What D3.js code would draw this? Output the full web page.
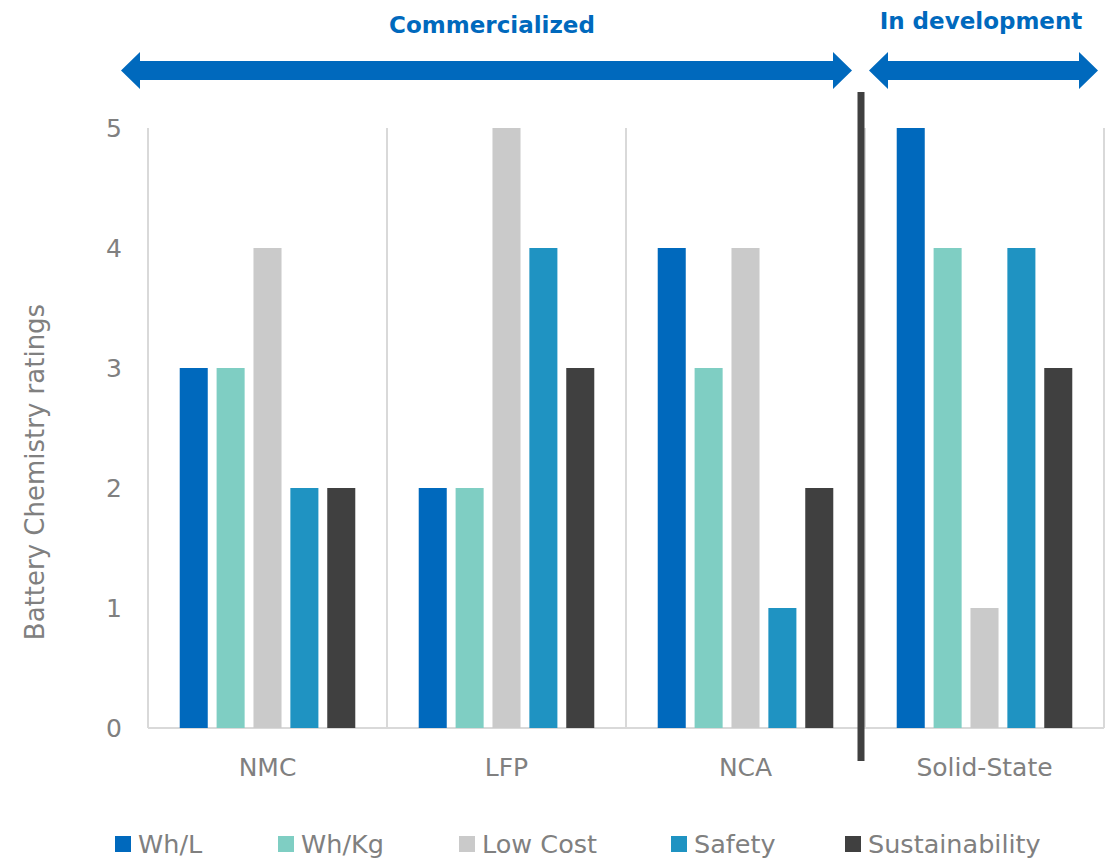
<!DOCTYPE html>
<html>
<head>
<meta charset="utf-8">
<script src="https://cdn.jsdelivr.net/npm/d3@7"></script>
<style>
  body { margin: 0; background: #fff; }
  text { font-family: "DejaVu Sans", Verdana, sans-serif; }
</style>
</head>
<body>
<div id="chart-area"></div>
<script>
// chart data
var categories = ["NMC", "LFP", "NCA", "Solid-State"];
var seriesNames = ["Wh/L", "Wh/Kg", "Low Cost", "Safety", "Sustainability"];
var colors = ["#0069bd", "#7fcec3", "#cacaca", "#1f93c2", "#404040"];
var whL = [3, 2, 4, 5];
var whKg = [3, 2, 3, 4];
var lowCost = [4, 5, 4, 1];
var safety = [2, 4, 1, 4];
var sustainability = [2, 3, 2, 3];
var yTicks = [0, 1, 2, 3, 4, 5];

var seriesValues = [whL, whKg, lowCost, safety, sustainability];

var W = 1112, H = 858;
var margin = { left: 148, right: 8, top: 128, bottom: 130 };
var width = W - margin.left - margin.right,
    height = H - margin.top - margin.bottom;

var svg = d3.select("#chart-area").append("svg")
    .attr("width", W)
    .attr("height", H);
var g = svg.append("g")
    .attr("transform", "translate(" + margin.left + "," + margin.top + ")");

// scales
var x0 = d3.scaleBand().domain(categories).range([0, width]).padding(0);
var x1 = d3.scaleBand().domain(seriesNames).range([0, x0.bandwidth()])
    .paddingInner(0.24).paddingOuter(0.86);
var y = d3.scaleLinear().domain([0, 5]).range([height, 0]);

// vertical grid lines at category boundaries
var bounds = categories.map(function(c) { return x0(c); }).concat([width]);
g.selectAll(".vgrid").data(bounds).enter().append("line")
    .attr("class", "vgrid")
    .attr("x1", function(d) { return d; })
    .attr("x2", function(d) { return d; })
    .attr("y1", 0)
    .attr("y2", height)
    .attr("stroke", "#d9d9d9")
    .attr("stroke-width", 2);

// baseline
g.append("line")
    .attr("x1", 0).attr("x2", width)
    .attr("y1", y(0)).attr("y2", y(0))
    .attr("stroke", "#d9d9d9")
    .attr("stroke-width", 2);

// bars
var groups = g.selectAll(".grp").data(categories).enter().append("g")
    .attr("class", "grp")
    .attr("transform", function(c) { return "translate(" + x0(c) + ",0)"; });
groups.selectAll("rect")
    .data(function(c, ci) {
        return seriesNames.map(function(s, si) {
            return { s: s, v: seriesValues[si][ci], color: colors[si] };
        });
    })
    .enter().append("rect")
    .attr("x", function(d) { return x1(d.s); })
    .attr("width", x1.bandwidth())
    .attr("y", function(d) { return y(d.v); })
    .attr("height", function(d) { return height - y(d.v); })
    .attr("fill", function(d) { return d.color; });

// y axis
var yAxis = g.append("g")
    .call(d3.axisLeft(y).tickValues(yTicks).tickFormat(d3.format("d"))
        .tickSize(0).tickPadding(26));
yAxis.select(".domain").remove();
yAxis.selectAll("text")
    .attr("font-size", "25px")
    .attr("fill", "#808080")
    .style("font-family", "DejaVu Sans, Verdana, sans-serif");

// x axis
var xAxis = g.append("g")
    .attr("transform", "translate(0," + height + ")")
    .call(d3.axisBottom(x0).tickSize(0));
xAxis.select(".domain").remove();
xAxis.selectAll("text")
    .attr("y", 48)
    .attr("dy", 0)
    .attr("font-size", "25px")
    .attr("fill", "#808080")
    .style("font-family", "DejaVu Sans, Verdana, sans-serif");

// y label
svg.append("text")
    .attr("transform", "translate(44," + 472 + ") rotate(-90)")
    .attr("text-anchor", "middle")
    .attr("font-size", "26px")
    .attr("fill", "#808080")
    .text("Battery Chemistry ratings");

// divider between commercialized and in development
var divX = margin.left + x0("Solid-State") - 4;
svg.append("line")
    .attr("x1", divX).attr("x2", divX)
    .attr("y1", 92).attr("y2", 761)
    .attr("stroke", "#404040")
    .attr("stroke-width", 7);

// double-headed arrows
function arrow(xa, xb, yc) {
    var hw = 19, hh = 18.5, sh = 9.5;
    var p = [
        [xa, yc], [xa + hw, yc - hh], [xa + hw, yc - sh],
        [xb - hw, yc - sh], [xb - hw, yc - hh], [xb, yc],
        [xb - hw, yc + hh], [xb - hw, yc + sh], [xa + hw, yc + sh],
        [xa + hw, yc + hh]
    ];
    svg.append("path")
        .attr("d", d3.line()(p) + "Z")
        .attr("fill", "#0069bd");
}
arrow(121, 852, 70.5);
arrow(869, 1098, 70.5);

svg.append("text")
    .attr("x", 492).attr("y", 33)
    .attr("text-anchor", "middle")
    .attr("font-size", "23px")
    .attr("font-weight", "bold")
    .attr("fill", "#0069bd")
    .text("Commercialized");
svg.append("text")
    .attr("x", 981).attr("y", 29)
    .attr("text-anchor", "middle")
    .attr("font-size", "23px")
    .attr("font-weight", "bold")
    .attr("fill", "#0069bd")
    .text("In development");

// legend
var legendX = [115, 278, 459, 671, 845];
var legend = svg.selectAll(".leg").data(seriesNames).enter().append("g")
    .attr("class", "leg")
    .attr("transform", function(d, i) { return "translate(" + legendX[i] + ",836)"; });
legend.append("rect")
    .attr("width", 16).attr("height", 16)
    .attr("fill", function(d, i) { return colors[i]; });
legend.append("text")
    .attr("x", 23).attr("y", 17)
    .attr("font-size", "25.5px")
    .attr("fill", "#808080")
    .text(function(d) { return d; });
</script>
</body>
</html>
